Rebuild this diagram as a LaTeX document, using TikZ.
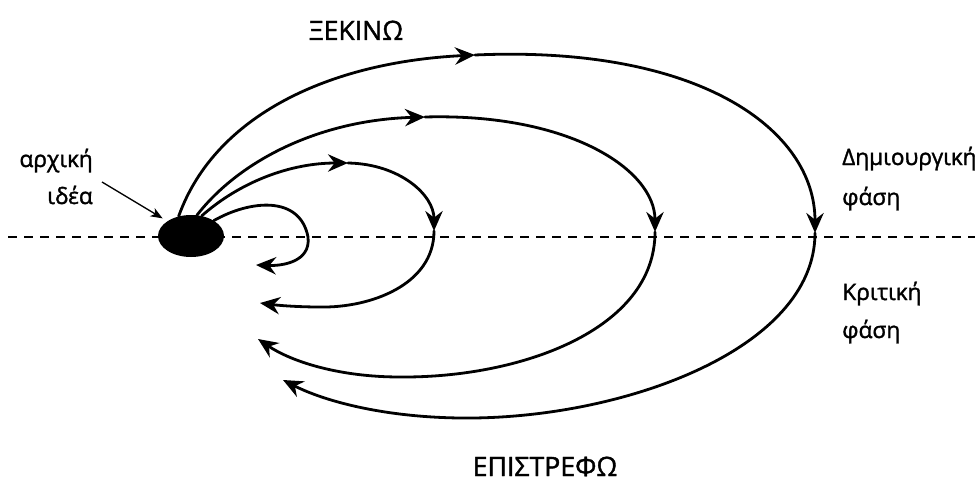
\documentclass[tikz,border=0pt]{standalone}
\usepackage{fontspec}
\setmainfont{Open Sans}[FakeBold=1.5]
\usetikzlibrary{arrows.meta,shapes.geometric}
\begin{document}
\begin{tikzpicture}[x=0.75pt,y=-0.75pt,
  loopline/.style={line width=2.1pt, line cap=round},
  tipend/.style={-{Stealth[length=15pt,width=13pt,inset=5pt]}},
  thinarrow/.style={line width=1pt,-{Stealth[length=9pt,width=7pt,inset=2.5pt]}},
  dashline/.style={line width=1.8pt, dash pattern=on 7pt off 5pt},
  lbl/.style={inner sep=0pt, font=\fontsize{17}{20}\selectfont},
  caplbl/.style={inner sep=0pt, font=\fontsize{20}{24}\selectfont},
]
\useasboundingbox (0,0) rectangle (980,485);

% dashed separator
\coordinate (dl) at (8,237);
\coordinate (dr) at (975,237);
\draw[dashline] (dl) -- (dr);

% initial idea
\node[ellipse, fill=black, minimum width=49.5pt, minimum height=31.5pt, inner sep=0pt] (idea) at (191,236) {};

% labels
\node[lbl, anchor=base east] (a1) at (93,167) {αρχική};
\node[lbl, anchor=base east] (a2) at (93,204) {ιδέα};
\node[caplbl, anchor=base] (start) at (356,40) {ΞΕΚΙΝΩ};
\node[caplbl, anchor=base] (ret) at (545,476) {ΕΠΙΣΤΡΕΦΩ};
\node[lbl, anchor=base west] (d1) at (842,165) {Δημιουργική};
\node[lbl, anchor=base west] (d2) at (842,205) {φάση};
\node[lbl, anchor=base west] (k1) at (842,300) {Κριτική};
\node[lbl, anchor=base west] (k2) at (842,338) {φάση};

% annotation arrow
\coordinate (ann) at (102,182);
\draw[thinarrow, shorten >=4pt] (ann) -- (idea.148);

% loop 1 (smallest)
\coordinate (l1e) at (256,265);
\draw[loopline, tipend] (idea.34) .. controls (250,200) and (300,195) .. (308,237)
   .. controls (311,262) and (282,266) .. (l1e);

% loop 2
\coordinate (l2a) at (348,163);
\coordinate (l2b) at (434,231);
\coordinate (l2e) at (260,303);
\draw[loopline, tipend] (idea.62) .. controls (240,182) and (290,163) .. (l2a);
\draw[loopline, tipend] (l2a) .. controls (400,164) and (434,195) .. (l2b);
\draw[loopline, tipend] (l2b) .. controls (434,285) and (370,308) .. (320,307)
   .. controls (295,307) and (275,305) .. (l2e);

% loop 3
\coordinate (l3a) at (425,117);
\coordinate (l3b) at (655,232);
\coordinate (l3e) at (258,339);
\draw[loopline, tipend] (idea.74) .. controls (240,160) and (320,120) .. (l3a);
\draw[loopline, tipend] (l3a) .. controls (570,113) and (655,170) .. (l3b);
\draw[loopline, tipend] (l3b) .. controls (655,330) and (520,378) .. (400,377)
   .. controls (340,377) and (292,362) .. (l3e);

% loop 4 (largest)
\coordinate (l4a) at (475,55);
\coordinate (l4b) at (815,233);
\coordinate (l4e) at (283,380);
\draw[loopline, tipend] (idea.122) .. controls (215,115) and (330,62) .. (l4a);
\draw[loopline, tipend] (l4a) .. controls (700,45) and (815,130) .. (l4b);
\draw[loopline, tipend] (l4b) .. controls (815,350) and (620,420) .. (460,418)
   .. controls (380,417) and (322,400) .. (l4e);
\end{tikzpicture}
\end{document}
